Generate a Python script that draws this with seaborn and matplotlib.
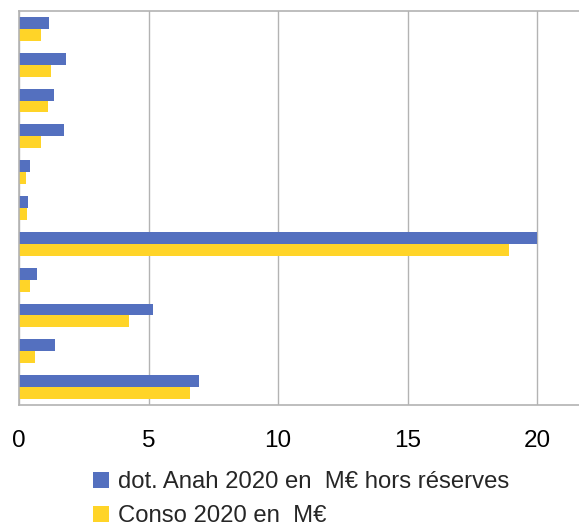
import pandas as pd
import matplotlib
matplotlib.use("Agg")
import matplotlib.pyplot as plt
import seaborn as sns
from matplotlib.patches import Patch

# values, top to bottom
categories = [f"Territoire {i}" for i in range(1, 12)]
dotation = [1.16, 1.81, 1.35, 1.72, 0.42, 0.35, 20.0, 0.69, 5.17, 1.39, 6.95]
conso = [0.84, 1.22, 1.11, 0.84, 0.27, 0.31, 18.92, 0.42, 4.25, 0.62, 6.60]
series_names = ["dot. Anah 2020 en  M€ hors réserves", "Conso 2020 en  M€"]
colors = ["#5470bf", "#ffd428"]

df = pd.DataFrame({
    "categorie": categories * 2,
    "serie": [series_names[0]] * len(categories) + [series_names[1]] * len(categories),
    "valeur": dotation + conso,
})

sns.set_style("white")
plt.rcParams["font.family"] = ["Liberation Sans", "DejaVu Sans"]

W, H = 579, 526
fig = plt.figure(figsize=(W / 100, H / 100), dpi=100)
ax = fig.add_axes([19 / W, (H - 405) / H, 560 / W, 394 / H])

sns.barplot(data=df, y="categorie", x="valeur", hue="serie", orient="h",
            palette=colors, width=0.667, gap=0, saturation=1, linewidth=0,
            legend=False, ax=ax)

grid_col = "#b3b3b3"
ax.set_xlim(0, 560 / 25.9)
ax.set_ylim(len(categories) - 0.5, -0.5)
ax.set_xticks([0, 5, 10, 15, 20])
ax.set_yticks([])
ax.set_xlabel("")
ax.set_ylabel("")
ax.xaxis.grid(True, color=grid_col, linewidth=1.0)
ax.set_axisbelow(True)
for side in ["left", "bottom", "top"]:
    ax.spines[side].set_color(grid_col)
    ax.spines[side].set_linewidth(1.2)
ax.spines["right"].set_visible(False)
ax.tick_params(axis="x", direction="out", length=8, width=1, color=grid_col,
               labelsize=17.5, labelcolor="black", pad=10)

handles = [Patch(facecolor=c, edgecolor="none") for c in colors]
fig.legend(handles, series_names, loc="upper left", bbox_to_anchor=(93 / W, 1 - 471 / H),
           frameon=False, fontsize=17.2, handlelength=0.65, handleheight=0.65,
           handletextpad=0.4, labelspacing=0.5, borderpad=0, borderaxespad=0)

fig.savefig("out.png", dpi=100)
